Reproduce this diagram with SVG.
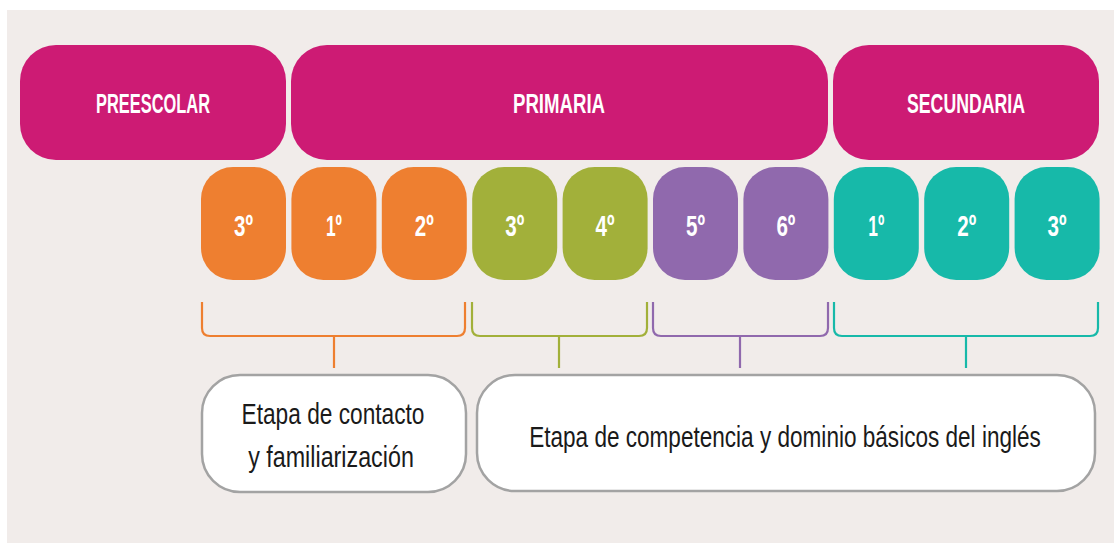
<svg xmlns="http://www.w3.org/2000/svg" width="1114" height="543" viewBox="0 0 1114 543">
<style>
.bg{fill:#ffffff}
.panel{fill:#f1ecea}
.level{fill:#cd1b74}
.lvtxt{font-family:"Liberation Sans",Arial,sans-serif;font-weight:bold;font-size:27px;fill:#ffffff;text-anchor:middle}
.gtxt{font-family:"Liberation Sans",Arial,sans-serif;font-weight:bold;font-size:30px;fill:#ffffff;text-anchor:middle}
.orange{fill:#ee7f30}
.green{fill:#a2b03a}
.purple{fill:#9069ad}
.teal{fill:#17b9a9}
.br{fill:none;stroke-width:2.2}
.stage{fill:#ffffff;stroke:#a3a3a3;stroke-width:2.5}
.stxt{font-family:"Liberation Sans",Arial,sans-serif;font-size:30px;fill:#1a1a1a;text-anchor:middle}
</style>
<rect class="bg" x="0" y="0" width="1114" height="543"/>
<rect class="panel" x="7" y="10" width="1107" height="533"/>

<g id="preescolar"><rect class="level" x="20" y="45" width="266" height="115" rx="36"/><text class="lvtxt" x="153" y="113" textLength="114" lengthAdjust="spacingAndGlyphs">PREESCOLAR</text></g>
<g id="primaria"><rect class="level" x="291" y="45" width="537" height="115" rx="36"/><text class="lvtxt" x="559" y="113" textLength="92" lengthAdjust="spacingAndGlyphs">PRIMARIA</text></g>
<g id="secundaria"><rect class="level" x="833" y="45" width="266" height="115" rx="36"/><text class="lvtxt" x="966" y="113" textLength="118" lengthAdjust="spacingAndGlyphs">SECUNDARIA</text></g>

<g id="pre-3"><rect class="orange" x="201" y="167" width="85" height="113" rx="32"/><text class="gtxt" x="243.5" y="236" textLength="19" lengthAdjust="spacingAndGlyphs">3º</text></g>
<g id="pri-1"><rect class="orange" x="291.4" y="167" width="85" height="113" rx="32"/><text class="gtxt" x="333.9" y="236" textLength="16" lengthAdjust="spacingAndGlyphs">1º</text></g>
<g id="pri-2"><rect class="orange" x="381.8" y="167" width="85" height="113" rx="32"/><text class="gtxt" x="424.3" y="236" textLength="19" lengthAdjust="spacingAndGlyphs">2º</text></g>
<g id="pri-3"><rect class="green" x="472.2" y="167" width="85" height="113" rx="32"/><text class="gtxt" x="514.7" y="236" textLength="19" lengthAdjust="spacingAndGlyphs">3º</text></g>
<g id="pri-4"><rect class="green" x="562.6" y="167" width="85" height="113" rx="32"/><text class="gtxt" x="605.1" y="236" textLength="19" lengthAdjust="spacingAndGlyphs">4º</text></g>
<g id="pri-5"><rect class="purple" x="653" y="167" width="85" height="113" rx="32"/><text class="gtxt" x="695.5" y="236" textLength="19" lengthAdjust="spacingAndGlyphs">5º</text></g>
<g id="pri-6"><rect class="purple" x="743.4" y="167" width="85" height="113" rx="32"/><text class="gtxt" x="785.9" y="236" textLength="19" lengthAdjust="spacingAndGlyphs">6º</text></g>
<g id="sec-1"><rect class="teal" x="833.8" y="167" width="85" height="113" rx="32"/><text class="gtxt" x="876.3" y="236" textLength="16" lengthAdjust="spacingAndGlyphs">1º</text></g>
<g id="sec-2"><rect class="teal" x="924.2" y="167" width="85" height="113" rx="32"/><text class="gtxt" x="966.7" y="236" textLength="19" lengthAdjust="spacingAndGlyphs">2º</text></g>
<g id="sec-3"><rect class="teal" x="1014.6" y="167" width="85" height="113" rx="32"/><text class="gtxt" x="1057.1" y="236" textLength="19" lengthAdjust="spacingAndGlyphs">3º</text></g>

<g id="connectors">
<path class="br" stroke="#ee7f30" d="M202,302 V328 Q202,336 210,336 H457 Q465,336 465,328 V302 M334,336 V368"/>
<path class="br" stroke="#a2b03a" d="M472,302 V328 Q472,336 480,336 H639 Q647,336 647,328 V302 M559,336 V368"/>
<path class="br" stroke="#9069ad" d="M653,302 V328 Q653,336 661,336 H820 Q828,336 828,328 V302 M740,336 V368"/>
<path class="br" stroke="#17b9a9" d="M834,302 V328 Q834,336 842,336 H1090 Q1098,336 1098,328 V302 M966,336 V368"/>
</g>

<g id="etapa-contacto"><rect class="stage" x="202" y="375" width="264" height="117" rx="38"/>
<text class="stxt" transform="translate(333,424) scale(0.82,1)" x="0" y="0" textLength="223" lengthAdjust="spacingAndGlyphs">Etapa de contacto</text>
<text class="stxt" transform="translate(331,467) scale(0.82,1)" x="0" y="0" textLength="202" lengthAdjust="spacingAndGlyphs">y familiarización</text></g>
<g id="etapa-competencia"><rect class="stage" x="477" y="375" width="618" height="116" rx="38"/>
<text class="stxt" transform="translate(785,447) scale(0.82,1)" x="0" y="0" textLength="624" lengthAdjust="spacingAndGlyphs">Etapa de competencia y dominio básicos del inglés</text></g>
</svg>
